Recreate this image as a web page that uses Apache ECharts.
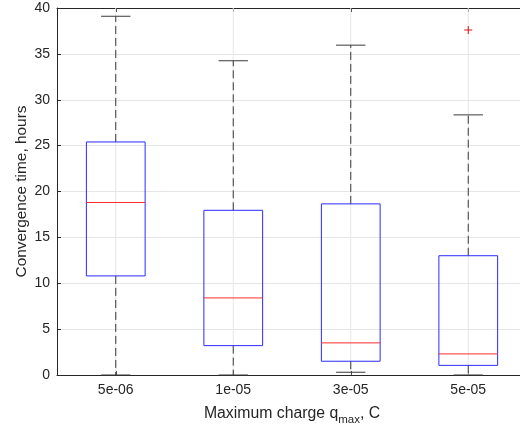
<!DOCTYPE html>
<html>
<head>
<meta charset="utf-8">
<script src="https://cdn.jsdelivr.net/npm/echarts@6/dist/echarts.min.js"></script>
<style>
  html, body { margin: 0; padding: 0; background: #fff; overflow: hidden; }
  #chart { width: 520px; height: 429px; }
</style>
</head>
<body>
<div id="chart"></div>
<script>
// Convergence time per maximum charge setting (box-and-whisker summary)
const categories = ['5e-06', '1e-05', '3e-05', '5e-05'];
const whiskerLow  = [0,    0,     0.3,   0];
const quartile1   = [10.8, 3.2,   1.5,   1.05];
const medians     = [18.8, 8.4,   3.5,   2.3];
const quartile3   = [25.4, 17.95, 18.65, 13.0];
const whiskerHigh = [39.1, 34.25, 35.95, 28.35];
// outliers: [category index, value]
const outliers = [[3, 37.6]];
const yTicks = [0, 5, 10, 15, 20, 25, 30, 35, 40];

const FONT = "'Liberation Sans', Arial, Helvetica, sans-serif";
const TEXT = '#262626';
const AXIS = '#262626';
const GRID = '#e6e6e6';
const BLUE = '#2b2bff';
const RED = '#ff2b2b';
const WHISK = '#3a3a3a';
const Y_MIN = yTicks[0];
const Y_MAX = yTicks[yTicks.length - 1];

const boxData = categories.map((c, i) =>
  [i, whiskerLow[i], quartile1[i], medians[i], quartile3[i], whiskerHigh[i]]);
const gridData = categories.map((c, i) => [i, Y_MIN, Y_MAX]);

// vertical grid line through each category centre
function renderVGrid(params, api) {
  const a = api.coord([api.value(0), api.value(1)]);
  const b = api.coord([api.value(0), api.value(2)]);
  return {
    type: 'line',
    shape: { x1: a[0], y1: a[1], x2: b[0], y2: b[1] },
    style: { stroke: GRID, lineWidth: 1 }
  };
}

function renderBox(params, api) {
  const i = api.value(0);
  const bandW = api.size([1, 0])[0];
  const half = bandW * 0.25;
  const capHalf = half * 0.5;
  const pLow = api.coord([i, api.value(1)]);
  const pQ1 = api.coord([i, api.value(2)]);
  const pMed = api.coord([i, api.value(3)]);
  const pQ3 = api.coord([i, api.value(4)]);
  const pHigh = api.coord([i, api.value(5)]);
  const x = pMed[0];
  const dashed = { stroke: WHISK, lineWidth: 1, lineDash: [8, 4] };
  const solid = { stroke: WHISK, lineWidth: 1 };
  return {
    type: 'group',
    children: [
      { type: 'line', shape: { x1: x, y1: pQ3[1], x2: x, y2: pHigh[1] }, style: dashed },
      { type: 'line', shape: { x1: x, y1: pQ1[1], x2: x, y2: pLow[1] }, style: dashed },
      { type: 'line', shape: { x1: x - capHalf, y1: pHigh[1], x2: x + capHalf, y2: pHigh[1] }, style: solid },
      { type: 'line', shape: { x1: x - capHalf, y1: pLow[1], x2: x + capHalf, y2: pLow[1] }, style: solid },
      { type: 'rect', shape: { x: x - half, y: pQ3[1], width: half * 2, height: pQ1[1] - pQ3[1] },
        style: { fill: 'none', stroke: BLUE, lineWidth: 1 } },
      { type: 'line', shape: { x1: x - half, y1: pMed[1], x2: x + half, y2: pMed[1] },
        style: { stroke: RED, lineWidth: 1 } }
    ]
  };
}

function renderOutlier(params, api) {
  const p = api.coord([api.value(0), api.value(1)]);
  const s = 4;
  const st = { stroke: '#e01010', lineWidth: 1 };
  return {
    type: 'group',
    children: [
      { type: 'line', shape: { x1: p[0] - s, y1: p[1], x2: p[0] + s, y2: p[1] }, style: st },
      { type: 'line', shape: { x1: p[0], y1: p[1] - s, x2: p[0], y2: p[1] + s }, style: st }
    ]
  };
}

const chart = echarts.init(document.getElementById('chart'), null, { renderer: 'canvas' });
chart.setOption({
  animation: false,
  backgroundColor: '#fff',
  // the axes box runs a little past the right edge of the canvas
  grid: { left: 57, top: 8, width: 470, height: 367, containLabel: false, outerBoundsMode: 'none' },
  xAxis: [{
    type: 'category',
    data: categories,
    boundaryGap: true,
    position: 'bottom',
    name: '{n|Maximum charge q}{s|max}{n|, C}',
    nameLocation: 'middle',
    nameGap: 27,
    nameMoveOverlap: false,
    nameTextStyle: {
      rich: {
        n: { fontFamily: FONT, fontSize: 15.8, color: TEXT },
        s: { fontFamily: FONT, fontSize: 11.5, color: TEXT, verticalAlign: 'bottom', padding: [12, 0, 0, 0] }
      }
    },
    axisLine: { show: true, lineStyle: { color: AXIS, width: 1 } },
    axisTick: { show: true, inside: true, alignWithLabel: true, length: 4, lineStyle: { color: AXIS } },
    axisLabel: { fontFamily: FONT, fontSize: 14, color: TEXT, margin: 8 },
    splitLine: { show: false }
  }, {
    type: 'category',
    data: categories,
    boundaryGap: true,
    position: 'top',
    axisLine: { show: true, lineStyle: { color: AXIS, width: 1 } },
    axisTick: { show: true, inside: true, alignWithLabel: true, length: 4, lineStyle: { color: AXIS } },
    axisLabel: { show: false },
    splitLine: { show: false }
  }],
  yAxis: {
    type: 'value',
    min: Y_MIN,
    max: Y_MAX,
    interval: 5,
    name: 'Convergence time, hours',
    nameLocation: 'middle',
    nameGap: 28,
    nameMoveOverlap: false,
    nameTextStyle: { fontFamily: FONT, fontSize: 15.4, color: TEXT },
    axisLine: { show: true, lineStyle: { color: AXIS, width: 1 } },
    axisTick: { show: true, inside: true, length: 4, lineStyle: { color: AXIS } },
    axisLabel: { fontFamily: FONT, fontSize: 14, color: TEXT, margin: 7 },
    splitLine: { show: true, lineStyle: { color: GRID, width: 1 } }
  },
  series: [{
    type: 'custom',
    xAxisIndex: 0,
    renderItem: renderVGrid,
    data: gridData,
    encode: { x: 0, y: [1, 2] },
    silent: true,
    z: 1
  }, {
    type: 'custom',
    xAxisIndex: 0,
    renderItem: renderBox,
    data: boxData,
    encode: { x: 0, y: [1, 2, 3, 4, 5] },
    clip: false,
    z: 3
  }, {
    type: 'custom',
    xAxisIndex: 0,
    renderItem: renderOutlier,
    data: outliers,
    encode: { x: 0, y: 1 },
    z: 4
  }]
});
</script>
</body>
</html>
